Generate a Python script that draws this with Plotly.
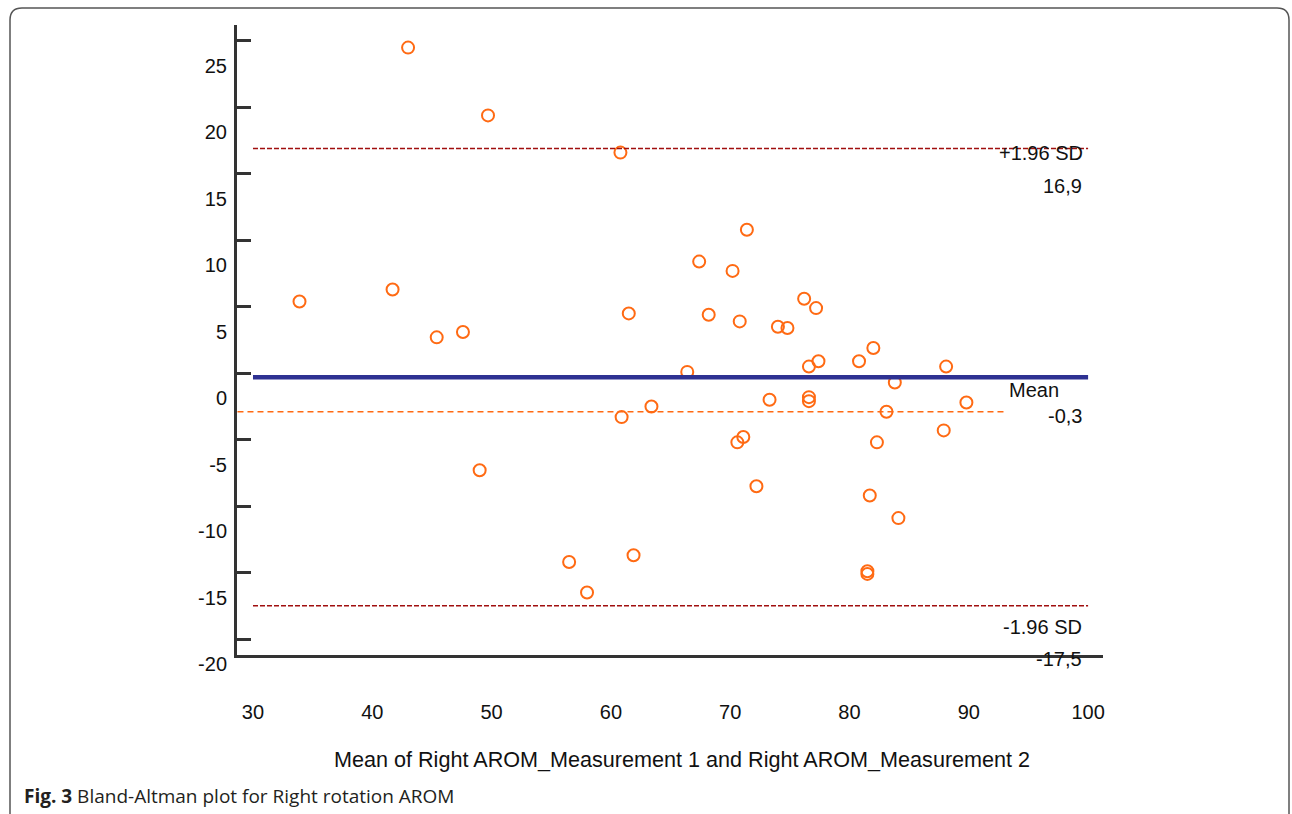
import plotly.graph_objects as go

# ---- data ----
mean_values = [43.0, 49.7, 60.8, 71.4, 67.4, 70.2, 33.9, 41.7, 45.4, 47.6,
               61.5, 68.2, 70.8, 74.0, 74.8, 76.2, 77.2, 66.4, 76.6, 77.4,
               80.8, 82.0, 88.1, 83.8, 76.6, 76.6, 73.3, 63.4, 60.9, 83.1,
               89.8, 71.1, 70.6, 82.3, 87.9, 49.0, 72.2, 81.7, 84.1, 56.5,
               61.9, 81.5, 81.5, 58.0]
diff_values = [24.5, 19.4, 16.6, 10.8, 8.4, 7.7, 5.4, 6.3, 2.7, 3.1,
               4.5, 4.4, 3.9, 3.5, 3.4, 5.6, 4.9, 0.1, 0.5, 0.9,
               0.9, 1.9, 0.5, -0.7, -1.8, -2.1, -2.0, -2.5, -3.3, -2.9,
               -2.2, -4.8, -5.2, -5.2, -4.3, -7.3, -8.5, -9.2, -10.9, -14.2,
               -13.7, -14.9, -15.1, -16.5]

mean_diff = -0.3
upper_loa = 16.9
lower_loa = -17.5
ref_dash_y = -2.9
line_x = [30, 100]
ref_dash_x = [28.7, 93.1]

y_tick_vals = [25, 20, 15, 10, 5, 0, -5, -10, -15, -20]
y_tick_text = ["25", "20", "15", "10", "5", "0", "-5", "-10", "-15", "-20"]
x_tick_vals = [30, 40, 50, 60, 70, 80, 90, 100]
x_tick_text = ["30", "40", "50", "60", "70", "80", "90", "100"]

x_title = "Mean of Right AROM_Measurement 1 and Right AROM_Measurement 2"
caption_bold = "Fig. 3"
caption_rest = " Bland-Altman plot for Right rotation AROM"

# ---- layout geometry ----
W, H = 1292, 814
L, R, T, B = 237, 1103, 25, 655
PW, PH = R - L, B - T


def px(x):
    return (x - L) / PW


def py(y):
    return (B - y) / PH


FONT = "Liberation Sans, Arial, sans-serif"
ORANGE = "#FF6A13"
AXIS = "#333333"

fig = go.Figure()

fig.add_trace(go.Scatter(
    x=mean_values, y=diff_values, mode="markers",
    marker=dict(symbol="circle-open", size=12, color=ORANGE,
                line=dict(width=2, color=ORANGE)),
    cliponaxis=False, showlegend=False, hoverinfo="x+y"))

fig.add_trace(go.Scatter(
    x=ref_dash_x, y=[ref_dash_y, ref_dash_y], mode="lines",
    line=dict(color=ORANGE, width=1.5, dash="6px,4px"),
    showlegend=False, hoverinfo="skip"))

for val in (upper_loa, lower_loa):
    fig.add_trace(go.Scatter(
        x=line_x, y=[val, val], mode="lines",
        line=dict(color="#A00F0F", width=1.5, dash="5px,2px"),
        showlegend=False, hoverinfo="skip"))

fig.add_trace(go.Scatter(
    x=line_x, y=[mean_diff, mean_diff], mode="lines",
    line=dict(color="#2E3192", width=4.5),
    showlegend=False, hoverinfo="skip"))


def fmt(v):
    return f"{v:.1f}".replace(".", ",")


labels = [
    ("+1.96 SD", upper_loa, -4, -3),
    (fmt(upper_loa), upper_loa, -37, -4),
    ("Mean", mean_diff, -13, -27),
    (fmt(mean_diff), mean_diff, -39, -4),
    ("-1.96 SD", lower_loa, -21, -4),
    (fmt(lower_loa), lower_loa, -53, -4),
]
for text, yv, ys, xs in labels:
    fig.add_annotation(x=line_x[1], y=yv, xref="x", yref="y", text=text,
                       showarrow=False, xanchor="right", yanchor="middle",
                       xshift=xs, yshift=ys,
                       font=dict(family=FONT, size=20, color="#111111"))

fig.add_annotation(x=px(682), y=py(759), xref="paper", yref="paper",
                   text=x_title, showarrow=False, xanchor="center",
                   yanchor="middle",
                   font=dict(family=FONT, size=21.6, color="#111111"))

fig.add_annotation(x=px(22), y=py(796), xref="paper", yref="paper",
                   text=f"<b>{caption_bold}</b>{caption_rest}",
                   showarrow=False, xanchor="left", yanchor="middle",
                   font=dict(family="Open Sans, sans-serif", size=19,
                             color="#231F20"))

# rounded outer frame
x0, y0, x1, y1, r = 10, 8, 1289, 840, 12
path = (f"M {px(x0 + r)},{py(y0)} L {px(x1 - r)},{py(y0)} "
        f"Q {px(x1)},{py(y0)} {px(x1)},{py(y0 + r)} "
        f"L {px(x1)},{py(y1 - r)} Q {px(x1)},{py(y1)} {px(x1 - r)},{py(y1)} "
        f"L {px(x0 + r)},{py(y1)} Q {px(x0)},{py(y1)} {px(x0)},{py(y1 - r)} "
        f"L {px(x0)},{py(y0 + r)} Q {px(x0)},{py(y0)} {px(x0 + r)},{py(y0)} Z")
fig.add_shape(type="path", path=path, xref="paper", yref="paper",
              line=dict(color="#555555", width=1.5), layer="below")

fig.update_layout(
    width=W, height=H,
    margin=dict(l=L, r=W - R, t=T, b=H - B, pad=0),
    paper_bgcolor="white", plot_bgcolor="white",
    font=dict(family=FONT, size=20, color="#111111"),
    xaxis=dict(range=[28.66, 101.25], tickvals=x_tick_vals,
               ticktext=x_tick_text, ticks="", showgrid=False,
               zeroline=False, showline=True, linecolor=AXIS, linewidth=3,
               ticklabelstandoff=37, tickfont=dict(size=20)),
    yaxis=dict(range=[-21.2, 26.2], tickvals=y_tick_vals,
               ticktext=y_tick_text, ticks="inside", ticklen=14,
               tickwidth=3, tickcolor=AXIS, showgrid=False, zeroline=False,
               showline=True, linecolor=AXIS, linewidth=3,
               ticklabelshift=25, ticklabelstandoff=3,
               tickfont=dict(size=20)),
)

fig.write_html(
    "out.html",
    config={"displayModeBar": False},
    post_script="document.body.style.margin='0';"
                "document.body.style.overflow='hidden';")
